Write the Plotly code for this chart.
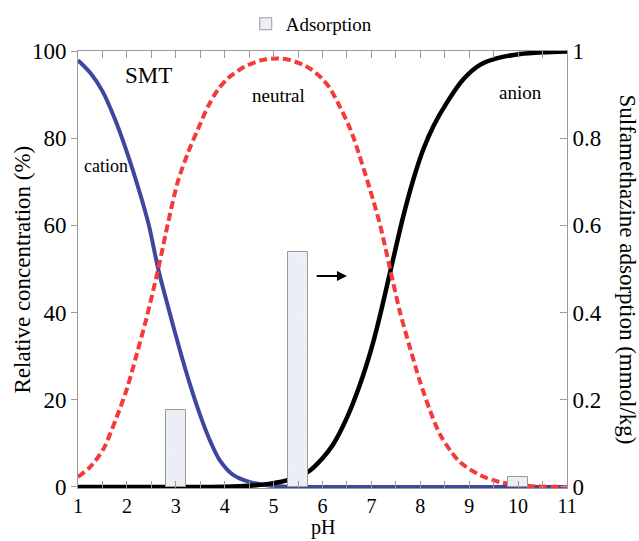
import plotly.graph_objects as go

# ---- data ----
ph_cation = [1.0, 1.25, 1.5, 1.75, 2.0, 2.25, 2.45, 2.64, 2.85, 3.09, 3.29, 3.49, 3.7, 3.9,
             4.18, 4.52, 4.86, 5.2, 5.6, 6.5, 8.0, 9.5, 11.0]
cation = [97.9, 95.0, 90.8, 84.5, 76.8, 68.0, 60.0, 50.0, 41.0, 31.1, 23.5, 16.7, 10.6, 6.1,
          2.7, 1.1, 0.4, 0.1, 0.0, 0.0, 0.0, 0.0, 0.0]

ph_neutral = [1.0, 1.25, 1.52, 1.79, 2.0, 2.2, 2.4, 2.64, 2.84, 3.04, 3.25, 3.45, 3.66, 3.86,
              4.07, 4.41, 4.75, 5.09, 5.34, 5.61, 5.78, 5.98, 6.15, 6.32, 6.53, 6.66, 6.97,
              7.18, 7.38, 7.58, 7.79, 7.99, 8.2, 8.4, 8.61, 8.81, 9.22, 9.63, 10.24, 11.0]
neutral = [2.3, 4.6, 8.7, 16.0, 22.5, 30.4, 38.7, 50.0, 60.5, 70.0, 76.7, 82.0, 87.3, 91.1,
           93.8, 96.4, 97.9, 98.3, 97.9, 96.8, 95.7, 93.8, 91.5, 88.0, 83.1, 79.3, 68.3,
           60.0, 50.1, 40.3, 31.9, 24.3, 17.5, 12.1, 8.4, 5.7, 2.7, 1.1, 0.2, 0.0]

ph_anion = [1.0, 2.0, 3.0, 4.0, 4.5, 4.93, 5.27, 5.71, 6.0, 6.22, 6.5, 6.77, 7.0, 7.18, 7.38,
            7.65, 7.86, 8.06, 8.27, 8.54, 8.88, 9.22, 9.56, 10.04, 10.5, 11.0]
anion = [0.0, 0.0, 0.0, 0.05, 0.25, 0.75, 1.5, 3.5, 6.6, 9.8, 15.9, 23.6, 31.7, 39.5, 49.1,
         62.0, 70.6, 77.4, 82.8, 88.1, 93.5, 96.8, 98.3, 99.3, 99.7, 99.9]

ads_ph = [3.0, 5.5, 10.0]
adsorption = [0.176, 0.538, 0.022]

x_ticks = [1, 2, 3, 4, 5, 6, 7, 8, 9, 10, 11]

FONT = "Liberation Serif, Times New Roman, serif"
AX = "#9a9a9a"

fig = go.Figure()
fig.add_trace(go.Scatter(x=ph_cation, y=cation, mode="lines", name="cation", showlegend=False,
                         line=dict(color="#3d489c", width=4, shape="spline", smoothing=0.8)))
fig.add_trace(go.Scatter(x=ph_anion, y=anion, mode="lines", name="anion", showlegend=False,
                         line=dict(color="#000000", width=4.5, shape="spline", smoothing=0.8)))
fig.add_trace(go.Scatter(x=ph_neutral, y=neutral, mode="lines", name="neutral", showlegend=False,
                         line=dict(color="#f53a3a", width=4, dash="8px,4px", shape="spline",
                                   smoothing=0.8)))
fig.add_trace(go.Bar(x=ads_ph, y=adsorption, width=0.4, yaxis="y2", name="Adsorption",
                     marker=dict(color="#eef0f8", line=dict(color="#9a9a9a", width=1),
                                 pattern=dict(shape="/", fgcolor="#d0d4e6", bgcolor="#eef0f8",
                                              size=3, solidity=0.2))))

fig.update_layout(
    width=639, height=541,
    margin=dict(l=78, r=72, t=51, b=53, autoexpand=False),
    paper_bgcolor="white", plot_bgcolor="white",
    font=dict(family=FONT, color="black", size=20),
    showlegend=True,
    legend=dict(orientation="h", x=0.343, xanchor="left", y=1.062, yanchor="middle",
                font=dict(family=FONT, size=19), bgcolor="rgba(0,0,0,0)"),
    xaxis=dict(range=[1, 11], tickvals=x_ticks, ticks="inside", ticklen=7, tickcolor=AX,
               showline=True, linecolor=AX, linewidth=1, mirror="ticks", automargin=False,
               minor=dict(ticks="inside", dtick=0.5, ticklen=7, tickcolor=AX),
               showgrid=False, zeroline=False, tickfont=dict(size=20),
               ticklabelstandoff=0),
    yaxis=dict(range=[-0.25, 100], dtick=20, ticks="outside", ticklen=6, tickcolor=AX,
               showline=True, linecolor=AX, linewidth=1, showgrid=False, zeroline=False,
               automargin=False, tickfont=dict(size=23)),
    yaxis2=dict(range=[-0.0025, 1], dtick=0.2, overlaying="y", side="right", ticks="inside",
                ticklen=7, tickcolor=AX, showline=True, linecolor=AX, linewidth=1,
                automargin=False, showgrid=False, zeroline=False, tickfont=dict(size=23)),
    bargap=0,
)

fig.add_annotation(text="pH", xref="paper", yref="paper", x=0.5, y=-0.1213,
                   xanchor="center", yanchor="bottom", showarrow=False,
                   font=dict(family=FONT, size=20))
fig.add_annotation(text="Relative concentration (%)", xref="paper", yref="paper",
                   x=-0.1145, y=0.5, xanchor="center", yanchor="middle", textangle=-90,
                   showarrow=False, font=dict(family=FONT, size=23))
fig.add_annotation(text="Sulfamethazine adsorption (mmol/kg)", xref="paper", yref="paper",
                   x=1.1227, y=0.5, xanchor="center", yanchor="middle", textangle=90,
                   showarrow=False, font=dict(family=FONT, size=23))
fig.add_annotation(text="SMT", x=2.45, y=94.3, showarrow=False, font=dict(family=FONT, size=23))
fig.add_annotation(text="cation", x=1.57, y=73.7, showarrow=False, font=dict(family=FONT, size=18))
fig.add_annotation(text="neutral", x=5.09, y=89.7, showarrow=False, font=dict(family=FONT, size=19))
fig.add_annotation(text="anion", x=10.04, y=90.4, showarrow=False, font=dict(family=FONT, size=19))
fig.add_annotation(text="", x=6.5, y=48.4, ax=5.85, ay=48.4, axref="x", ayref="y",
                   showarrow=True, arrowhead=2, arrowsize=1, arrowwidth=2, arrowcolor="black")

fig.write_html("out.html")
